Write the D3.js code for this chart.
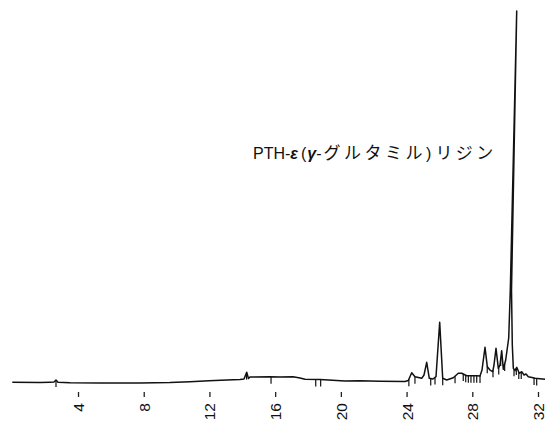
<!DOCTYPE html>
<html>
<head>
<meta charset="utf-8">
<script src="https://cdn.jsdelivr.net/npm/d3@7"></script>
<style>
  body { margin: 0; background: #fff; }
  svg { display: block; }
</style>
</head>
<body>
<svg id="chart" width="558" height="432"></svg>
<script>
// Retention time (min) and detector response of the PTH trace
const retentionTime = [
  0, 1.686, 2.295, 2.538, 2.660, 2.782, 3.512, 5.338, 7.773, 9.599,
  10.817, 11.973, 13.434, 13.860, 14.104, 14.268, 14.378, 14.469, 15.687, 16.295,
  17.087, 17.513, 17.817, 18.730, 20.252, 21.165, 22.382, 23.904, 24.105, 24.312,
  24.513, 24.921, 25.061, 25.225, 25.383, 25.609, 25.791, 26.016, 26.199, 26.443,
  26.844, 27.149, 27.356, 27.660, 28.269, 28.470, 28.592, 28.774, 28.914, 29.079,
  29.243, 29.322, 29.444, 29.584, 29.687, 29.791, 29.888, 30.034, 30.217, 30.314,
  30.704, 30.387, 30.436, 30.497, 30.600, 30.704, 30.862, 31.008, 31.148, 31.270,
  31.410, 31.635, 31.818, 32.122, 32.427
];
const signal = [
  0.19, 0.13, 0.22, 0.27, 0.81, 0.19, 0.05, 0.00, 0.00, 0.11,
  0.32, 0.59, 0.86, 0.94, 1.08, 2.88, 1.21, 1.61, 1.67, 1.61,
  1.69, 1.34, 0.99, 0.94, 0.54, 0.62, 0.48, 0.40, 0.67, 2.77,
  1.69, 1.26, 2.15, 5.56, 1.26, 1.08, 1.69, 16.32, 1.26, 0.81,
  1.42, 2.61, 2.61, 1.96, 1.96, 1.88, 3.49, 9.60, 4.38, 3.49,
  3.04, 4.84, 9.33, 3.95, 4.84, 8.68, 3.68, 6.18, 12.10, 25.0,
  100.0, 25.0, 10.2, 3.95, 3.31, 4.22, 2.61, 3.04, 2.15, 2.42,
  1.69, 1.48, 1.26, 1.13, 0.99
];
// Integrator event marks (min)
const markerTimes = [
  2.66, 14.26, 15.75, 18.47, 18.77, 24.14, 24.51, 25.47, 25.73, 26.20,
  26.95, 27.45, 27.60, 27.76, 27.92, 28.10, 28.27, 28.47, 28.91, 29.26,
  29.61, 29.73, 29.97, 30.54, 30.68, 30.83, 30.98, 31.76, 31.92
];
const tickValues = [4, 8, 12, 16, 20, 24, 28, 32];
const tickLabels = ["4", "8", "12", "16", "20", "24", "28", "32"];

// Peak annotation, split into runs that share a style
const labelRuns = [
  { text: "PTH-", kind: "latin", gap: 0 },
  { text: "ε", kind: "greek", gap: 0 },
  { text: "(", kind: "latin", gap: 3 },
  { text: "γ", kind: "greek", gap: 1 },
  { text: "-", kind: "latin", gap: 0 },
  { text: "グルタミル", kind: "kana", gap: 2 },
  { text: ")", kind: "latin", gap: 0 },
  { text: "リジン", kind: "kana", gap: 4 }
];

const svg = d3.select("#chart");
svg.append("rect").attr("width", 558).attr("height", 432).attr("fill", "#fff");

const x = d3.scaleLinear().domain([0, 32]).range([12.3, 538]);
const y = d3.scaleLinear().domain([0, 100]).range([383, 11]);

const points = retentionTime.map((t, i) => [t, signal[i]]);

// Trace
svg.append("path")
  .datum(points)
  .attr("fill", "none")
  .attr("stroke", "#111")
  .attr("stroke-width", 1.5)
  .attr("stroke-linejoin", "round")
  .attr("d", d3.line().x(d => x(d[0])).y(d => y(d[1])));

// Lowest trace value at a given time (used as the top of each event mark)
function traceAt(t) {
  let best = Infinity;
  for (let i = 0; i < points.length - 1; i++) {
    const [t0, v0] = points[i], [t1, v1] = points[i + 1];
    const lo = Math.min(t0, t1), hi = Math.max(t0, t1);
    if (t >= lo && t <= hi && hi > lo) {
      const v = v0 + (v1 - v0) * (t - t0) / (t1 - t0);
      best = Math.min(best, v);
    }
  }
  return best === Infinity ? 0 : best;
}

svg.append("g")
  .attr("stroke", "#111")
  .attr("stroke-width", 1.2)
  .selectAll("line")
  .data(markerTimes)
  .join("line")
  .attr("x1", d => x(d)).attr("x2", d => x(d))
  .attr("y1", d => y(traceAt(d)))
  .attr("y2", d => y(traceAt(d)) + 7);

// Time axis: short dashes with rotated labels, no axis line
const axis = svg.append("g")
  .attr("transform", "translate(0,392)")
  .call(d3.axisBottom(x).tickValues(tickValues).tickSize(5)
    .tickFormat((d, i) => tickLabels[i]));
axis.select(".domain").remove();
axis.selectAll(".tick line").attr("stroke", "#222").attr("stroke-width", 1.3);
axis.selectAll(".tick text")
  .attr("transform", "rotate(-90)")
  .attr("x", -11)
  .attr("y", 0)
  .attr("dy", "0.35em")
  .style("text-anchor", "end")
  .style("font-family", "'Liberation Sans', Arial, sans-serif")
  .style("font-size", "15.5px")
  .attr("fill", "#111");

// Peak label
const label = svg.append("text")
  .attr("x", 253)
  .attr("y", 159)
  .attr("fill", "#111")
  .style("font-family", "'Liberation Sans', 'Noto Sans CJK JP', sans-serif");
label.selectAll("tspan")
  .data(labelRuns)
  .join("tspan")
  .attr("dx", d => d.gap)
  .text(d => d.text)
  .style("font-size", d => d.kind === "kana" ? "17px" : "16px")
  .style("font-weight", d => d.kind === "greek" ? "bold" : "normal")
  .style("font-style", d => d.kind === "greek" ? "italic" : "normal")
  .style("font-family", d => d.kind === "kana" ? "'Noto Sans CJK JP', sans-serif" : "'Liberation Sans', Arial, sans-serif")
  .style("letter-spacing", d => d.kind === "kana" ? "3.5px" : "0px");
</script>
</body>
</html>
